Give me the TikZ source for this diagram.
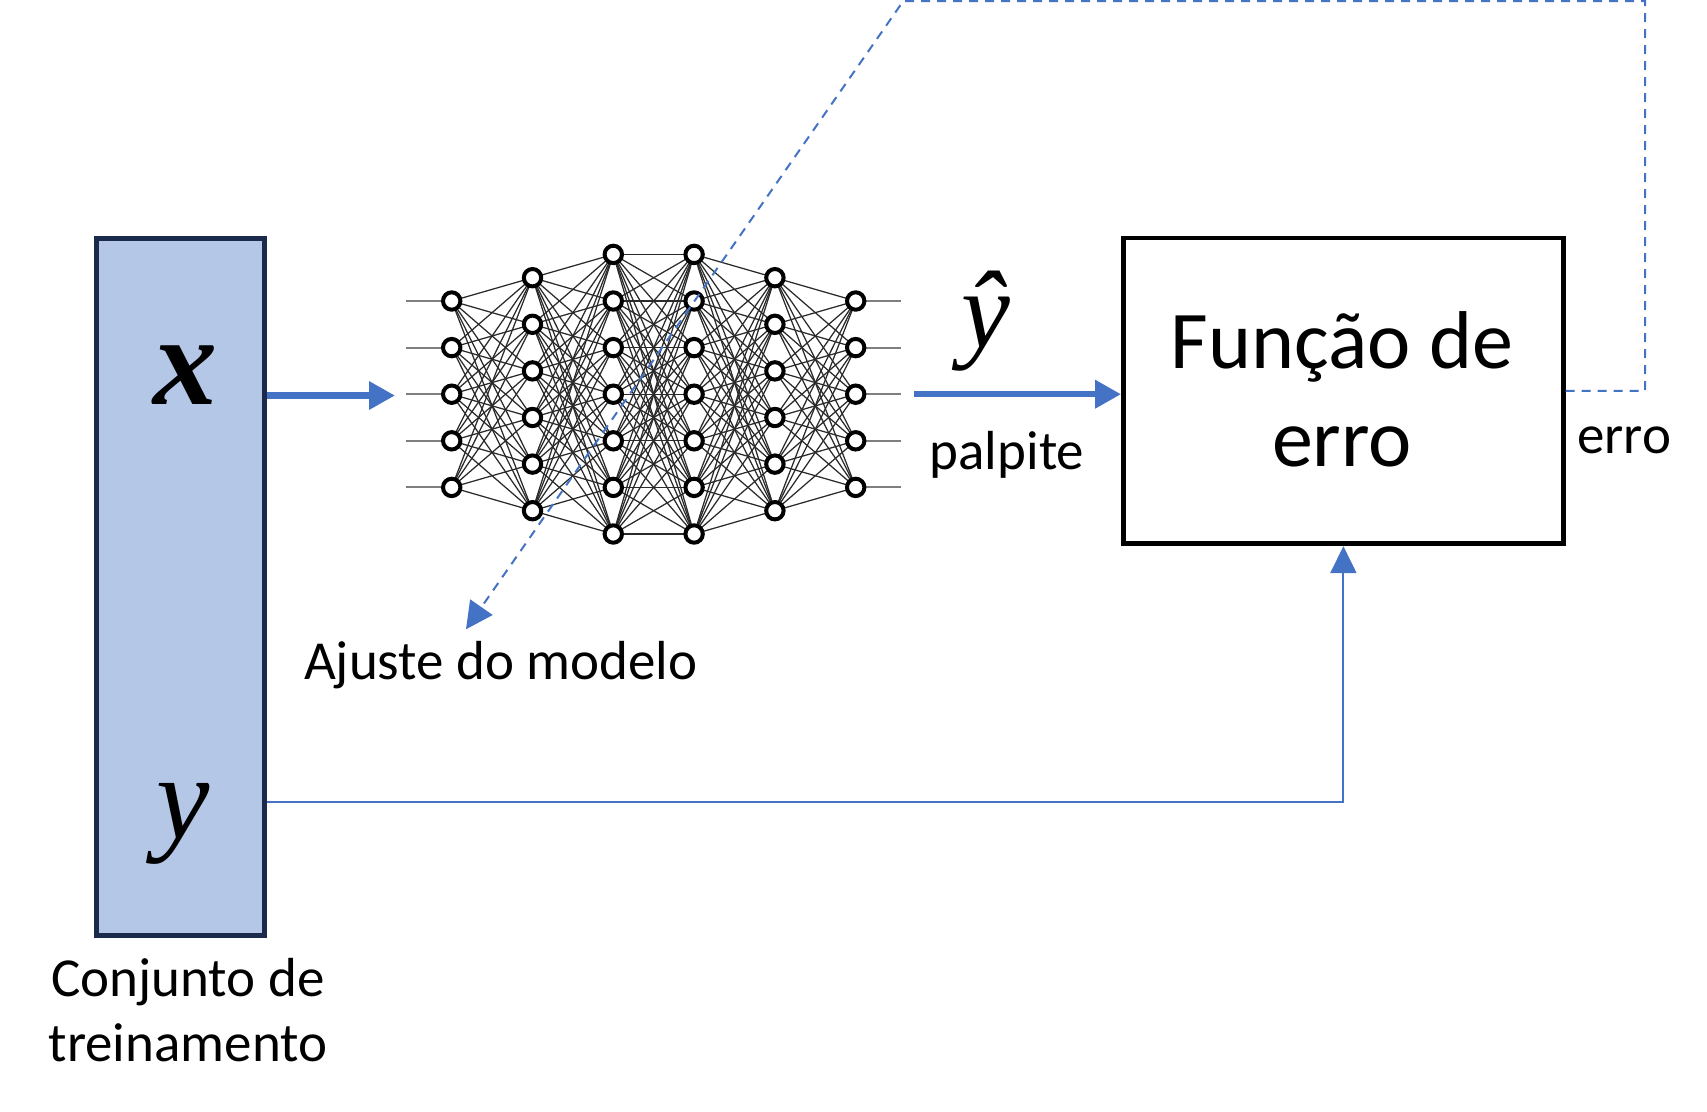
\documentclass[tikz,border=0pt]{standalone}
\usepackage{fontspec}
\setmainfont{Carlito}
\newfontfamily\tms{Liberation Serif}
\usetikzlibrary{arrows.meta}
\pgfdeclarelayer{background}
\pgfsetlayers{background,main}
\definecolor{myblue}{HTML}{4472C4}
\definecolor{boxfill}{HTML}{B4C7E7}
\definecolor{boxdraw}{HTML}{1B2A4A}
\definecolor{stubgray}{HTML}{7F7F7F}
\definecolor{conngray}{HTML}{2A2A2A}
\tikzset{
  neuron/.style={circle, draw=black, fill=white, line width=4pt, minimum size=17.4pt, inner sep=0pt},
  conn/.style={draw=conngray, line width=1.25pt},
  stub/.style={draw=stubgray, line width=2pt},
  setbox/.style={draw=boxdraw, fill=boxfill, line width=5pt, minimum width=167.7pt, minimum height=697pt, inner sep=0pt},
  lossbox/.style={draw=black, line width=4.7pt, minimum width=439.9pt, minimum height=305.8pt, inner sep=0pt},
  bigarrow/.style={draw=myblue, line width=6.5pt, -{Triangle[length=26pt,width=27pt]}},
  thinarrow/.style={draw=myblue, line width=2pt, -{Triangle[length=27pt,width=26pt]}},
  dasharrow/.style={draw=myblue, line width=2pt, dash pattern=on 9pt off 7pt, -{Triangle[length=27pt,width=27pt]}},
  lbl/.style={inner sep=0pt, anchor=base, font=\fontsize{55}{66}\selectfont},
  big/.style={inner sep=0pt, anchor=base, font=\fontsize{82}{98}\selectfont},
}
\begin{document}
\begin{tikzpicture}[x=1pt,y=-1pt]
\useasboundingbox (0,0) rectangle (1707,1111);

% training set box
\node[setbox] (set) at (180.35,587) {};
\node[inner sep=0pt, anchor=base] (xl) at (185,404) {\fontsize{128}{128}\selectfont\tms\bfseries\itshape x};
\node[inner sep=0pt, anchor=base] (yl) at (183,838) {\fontsize{120}{120}\selectfont\tms\itshape y};
\node[lbl] (conj1) at (188,996) {Conjunto de};
\node[lbl] (conj2) at (188,1061.5) {treinamento};

% neural network
\foreach \l/\n in {1/5,2/6,3/7,4/7,5/6,6/5} {
  \foreach \j in {1,...,\n} {
    \node[neuron] (n-\l-\j) at ({451.7+(\l-1)*80.8}, {394.2+(\j-(\n+1)/2)*46.6}) {};
  }
}
\begin{pgfonlayer}{background}
\foreach \l/\n/\m in {1/5/6,2/6/7,3/7/7,4/7/6,5/6/5} {
  \pgfmathtruncatemacro\k{\l+1}
  \foreach \i in {1,...,\n} {
    \foreach \j in {1,...,\m} {
      \draw[conn] (n-\l-\i.center) -- (n-\k-\j.center);
    }
  }
}
\foreach \j in {1,...,5} {
  \coordinate (in-\j) at (405.5, {394.2+(\j-3)*46.6});
  \coordinate (out-\j) at (901, {394.2+(\j-3)*46.6});
  \draw[stub] (in-\j) -- (n-1-\j.center);
  \draw[stub] (n-6-\j.center) -- (out-\j);
}
\end{pgfonlayer}

% input arrow
\coordinate (nnin) at (395,395.5);
\draw[bigarrow] (set.east |- nnin) -- (nnin);

% loss box
\node[lossbox] (loss) at (1343.4,390.9) {};
\node[big] (loss1) at (1342,368) {Função de};
\node[big] (loss2) at (1342,466) {erro};

% prediction arrow
\coordinate (nnout) at (914.3,394.2);
\draw[bigarrow] (nnout) -- (loss.west |- nnout);
\node[inner sep=0pt, anchor=base] (yhat) at (986,347) {\fontsize{110}{110}\selectfont\tms\itshape ŷ};
\node[lbl] (palp) at (1007,469) {palpite};

% y to loss
\coordinate (ycorner) at (0,802.4);
\draw[thinarrow] (set.east |- ycorner) -| (loss.south);

% feedback dashed
\coordinate (fb1) at (1645,1);
\coordinate (fb2) at (903.3,1);
\coordinate (fb3) at (466,629.3);
\draw[dasharrow] (loss.east) -| (fb1) -- (fb2) -- (fb3);
\node[lbl] (err) at (1624,453) {erro};
\node[lbl] (ajuste) at (500.8,679.5) {Ajuste do modelo};
\end{tikzpicture}
\end{document}
